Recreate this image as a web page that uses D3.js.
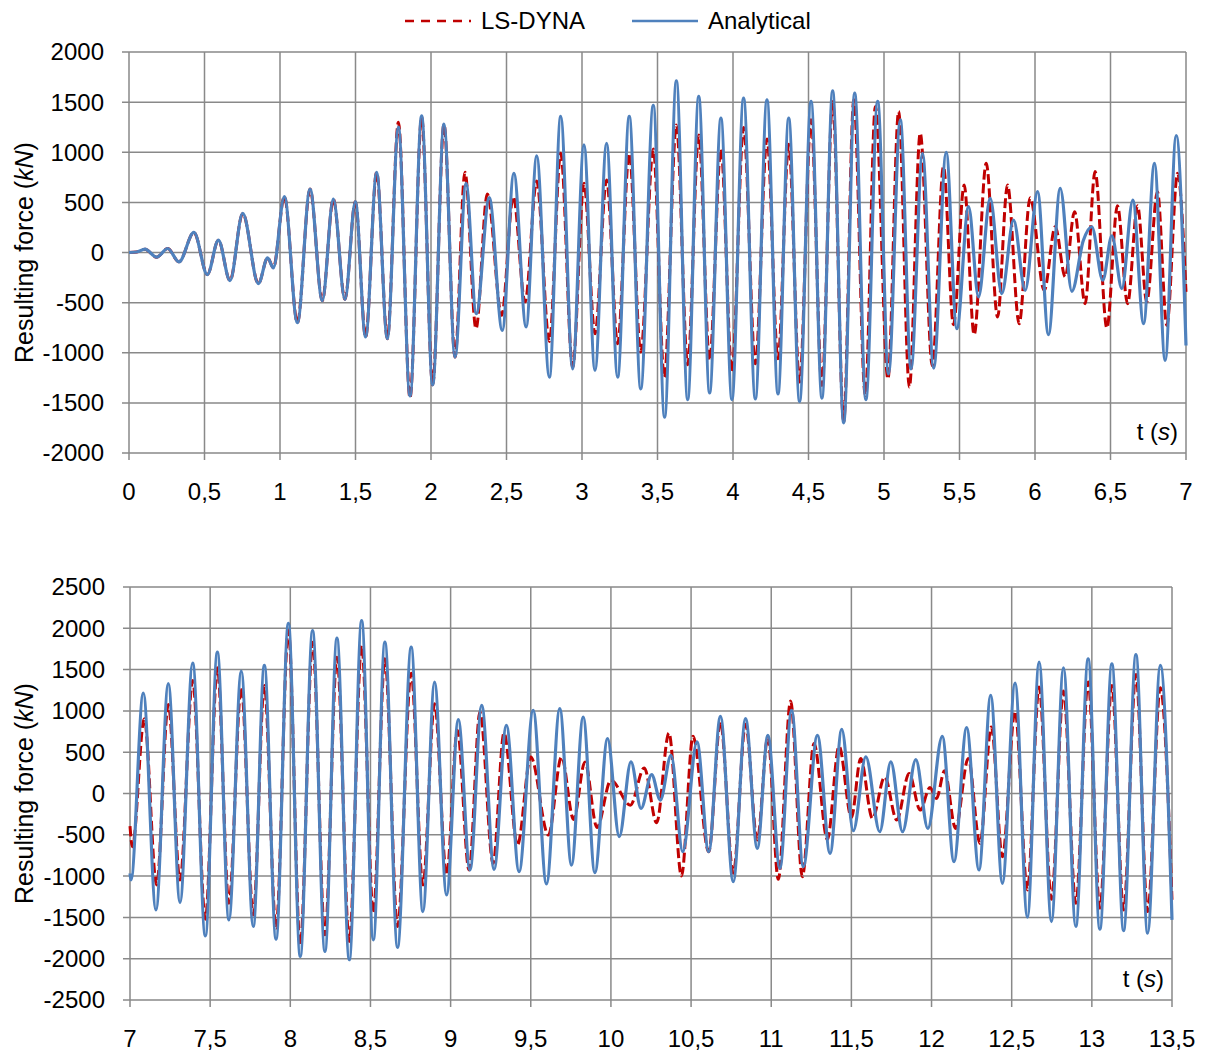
<!DOCTYPE html>
<html>
<head>
<meta charset="utf-8">
<script src="https://cdn.jsdelivr.net/npm/d3@7"></script>
<style>
  body { margin: 0; background: #fff; }
  svg text { font-family: "Liberation Sans", Arial, sans-serif; fill: #000; }
</style>
</head>
<body>
<svg width="1206" height="1052"></svg>
<script>
// extremes: [t (s), force (kN)]
const lsDynaTop = [
  [0,0],[0.05,5],[0.106,33],[0.183,-47],[0.256,40],[0.331,-93],[0.43,200],[0.519,-220],[0.592,123],
  [0.669,-280],[0.753,390],[0.857,-310],[0.918,-53],[0.956,-153],[1.029,557],[1.115,-700],[1.199,633],
  [1.28,-480],[1.353,533],[1.43,-467],[1.499,507],[1.567,-843],[1.64,800],[1.711,-860],
  [1.784,1300],[1.861,-1450],[1.938,1350],[2.011,-1320],[2.086,1280],[2.159,-1043],[2.225,800],
  [2.298,-760],[2.373,583],[2.468,-627],[2.545,557],[2.623,-493],[2.70,713],[2.784,-887],[2.859,990],
  [2.938,-1143],[3.013,690],[3.086,-810],[3.163,723],[3.236,-910],[3.313,990],[3.389,-993],[3.472,1033],
  [3.545,-1243],[3.625,1273],[3.70,-1120],[3.773,1173],[3.845,-1077],[3.92,1033],[3.993,-1193],
  [4.07,1247],[4.148,-1110],[4.225,1133],[4.298,-1060],[4.369,1080],[4.441,-1293],[4.517,1323],
  [4.589,-1327],[4.66,1507],[4.733,-1687],[4.80,1523],[4.876,-1427],[4.943,1457],[5.026,-1260],
  [5.097,1407],[5.168,-1343],[5.24,1190],[5.32,-1130],[5.394,857],[5.46,-720],[5.531,673],[5.597,-820],
  [5.677,890],[5.752,-643],[5.818,673],[5.895,-710],[5.968,547],[6.061,-377],[6.134,257],[6.2,-243],
  [6.262,407],[6.332,-510],[6.398,807],[6.476,-753],[6.546,467],[6.613,-510],[6.679,467],[6.74,-493],
  [6.811,607],[6.873,-727],[6.944,790],[7.0,-393]
];
const analyticalTop = [
  [0,0],[0.05,5],[0.106,33],[0.183,-47],[0.256,40],[0.331,-93],[0.43,200],[0.519,-220],[0.592,123],
  [0.669,-280],[0.753,390],[0.857,-310],[0.918,-53],[0.956,-153],[1.029,557],[1.115,-700],[1.199,633],
  [1.28,-480],[1.353,533],[1.43,-467],[1.499,507],[1.567,-843],[1.64,800],[1.711,-860],
  [1.784,1250],[1.861,-1430],[1.938,1363],[2.011,-1320],[2.086,1280],[2.159,-1043],[2.232,690],
  [2.30,-610],[2.386,547],[2.472,-777],[2.549,790],[2.63,-743],[2.70,963],[2.784,-1243],[2.859,1357],
  [2.938,-1160],[3.013,1073],[3.086,-1177],[3.163,1090],[3.236,-1243],[3.313,1357],[3.389,-1360],
  [3.472,1467],[3.547,-1643],[3.625,1713],[3.70,-1467],[3.773,1557],[3.845,-1400],[3.92,1340],
  [3.993,-1467],[4.07,1540],[4.148,-1460],[4.225,1523],[4.298,-1410],[4.369,1340],[4.441,-1487],
  [4.517,1507],[4.589,-1453],[4.66,1613],[4.733,-1700],[4.806,1590],[4.88,-1467],[4.958,1507],
  [5.03,-1210],[5.108,1323],[5.179,-1160],[5.255,990],[5.329,-1153],[5.412,1000],[5.482,-760],
  [5.56,457],[5.626,-443],[5.703,540],[5.78,-410],[5.858,323],[5.935,-377],[6.017,607],[6.089,-820],
  [6.167,640],[6.244,-387],[6.32,120],[6.376,257],[6.449,-277],[6.509,167],[6.575,-360],[6.648,523],
  [6.719,-710],[6.791,890],[6.862,-1077],[6.935,1167],[7.0,-927]
];
const lsDynaBottom = [
  [7.0,-395],[7.015,-644],[7.089,906],[7.166,-1107],[7.239,1079],[7.312,-1047],[7.391,1369],[7.47,-1522],
  [7.545,1522],[7.617,-1329],[7.694,1288],[7.769,-1470],[7.838,1308],[7.911,-1630],[7.988,1973],
  [8.062,-1832],[8.139,1832],[8.216,-1711],[8.291,1651],[8.368,-1792],[8.445,1792],[8.518,-1449],
  [8.59,1630],[8.669,-1610],[8.754,1457],[8.827,-1107],[8.90,1087],[8.975,-986],[9.042,765],[9.115,-926],
  [9.183,986],[9.265,-845],[9.333,733],[9.417,-624],[9.50,443],[9.61,-503],[9.692,443],[9.767,-314],
  [9.838,382],[9.913,-411],[10.0,161],[10.121,-141],[10.208,310],[10.285,-354],[10.362,733],[10.44,-998],
  [10.512,692],[10.61,-705],[10.683,866],[10.763,-966],[10.84,837],[10.913,-564],[10.979,684],
  [11.044,-1039],[11.121,1119],[11.194,-1007],[11.267,604],[11.35,-556],[11.423,572],[11.50,-290],
  [11.558,423],[11.631,-302],[11.708,201],[11.783,-322],[11.86,242],[11.929,-201],[11.99,72],[12.031,-60],
  [12.081,274],[12.15,-423],[12.229,423],[12.302,-604],[12.373,805],[12.442,-765],[12.521,998],
  [12.598,-1168],[12.671,1288],[12.748,-1280],[12.823,1240],[12.90,-1329],[12.977,1349],[13.05,-1389],
  [13.125,1308],[13.198,-1409],[13.275,1441],[13.348,-1429],[13.427,1280],[13.5,-1288]
];
const analyticalBottom = [
  [7.0,-966],[7.006,-1047],[7.083,1216],[7.162,-1409],[7.239,1329],[7.312,-1320],[7.391,1578],[7.47,-1723],
  [7.545,1711],[7.617,-1530],[7.694,1482],[7.769,-1610],[7.838,1550],[7.911,-1763],[7.988,2061],
  [8.062,-1973],[8.139,1973],[8.216,-1912],[8.291,1880],[8.368,-2013],[8.445,2093],[8.518,-1771],
  [8.59,1832],[8.669,-1862],[8.754,1771],[8.827,-1429],[8.90,1349],[8.975,-1228],[9.048,894],[9.121,-926],
  [9.194,1067],[9.271,-918],[9.348,825],[9.427,-946],[9.515,1007],[9.598,-1095],[9.681,1027],[9.754,-866],
  [9.827,926],[9.90,-958],[9.979,664],[10.052,-523],[10.125,382],[10.188,-181],[10.254,229],[10.308,-80],
  [10.375,463],[10.448,-705],[10.537,624],[10.61,-705],[10.683,934],[10.763,-1067],[10.84,906],
  [10.913,-664],[10.979,705],[11.054,-906],[11.127,1007],[11.2,-886],[11.288,705],[11.367,-725],
  [11.44,777],[11.512,-451],[11.59,443],[11.677,-463],[11.746,382],[11.819,-463],[11.902,411],
  [11.977,-423],[12.067,692],[12.14,-825],[12.219,797],[12.296,-926],[12.369,1188],[12.442,-1087],
  [12.521,1337],[12.598,-1498],[12.671,1590],[12.748,-1550],[12.823,1522],[12.90,-1610],[12.977,1630],
  [13.05,-1643],[13.125,1570],[13.198,-1659],[13.275,1683],[13.348,-1691],[13.427,1550],[13.5,-1530]
];

const topXTicks = d3.range(0, 7.01, 0.5);
const topYTicks = d3.range(-2000, 2001, 500);
const bottomXTicks = d3.range(7, 13.51, 0.5);
const bottomYTicks = d3.range(-2500, 2501, 500);

const seriesNames = ["LS-DYNA", "Analytical"];
const seriesColors = ["#C00000", "#4F81BD"];

let svg = d3.select("svg");
let gridColor = "#898989";
let fmt = (d) => String(+d.toFixed(1)).replace(".", ",");

function drawPanel(box, xDomain, yDomain, xTicks, yTicks, red, blue) {
    let x = d3.scaleLinear().domain(xDomain).range([box.left, box.right]);
    let y = d3.scaleLinear().domain(yDomain).range([box.bottom, box.top]);
    let g = svg.append("g");

    // grid + tick marks
    g.selectAll(".hgrid").data(yTicks).enter().append("line")
        .attr("x1", box.left - 7).attr("x2", box.right)
        .attr("y1", d => y(d)).attr("y2", d => y(d))
        .attr("stroke", gridColor).attr("stroke-width", 1.5);
    g.selectAll(".vgrid").data(xTicks).enter().append("line")
        .attr("x1", d => x(d)).attr("x2", d => x(d))
        .attr("y1", box.top).attr("y2", box.bottom + 7)
        .attr("stroke", gridColor).attr("stroke-width", 1.5);

    g.selectAll(".ylab").data(yTicks).enter().append("text")
        .attr("x", box.left - 25).attr("y", d => y(d))
        .attr("dy", "0.35em").attr("text-anchor", "end")
        .style("font-size", "24px")
        .text(d => d);
    g.selectAll(".xlab").data(xTicks).enter().append("text")
        .attr("x", d => x(d)).attr("y", box.bottom + 47)
        .attr("text-anchor", "middle")
        .style("font-size", "24px")
        .text(fmt);

    let line = d3.line()
        .x(d => x(d[0])).y(d => y(d[1]))
        .curve(d3.curveMonotoneX);

    g.append("path").datum(red)
        .attr("d", line).attr("fill", "none")
        .attr("stroke", seriesColors[0]).attr("stroke-width", 3)
        .attr("stroke-dasharray", "10,4");
    g.append("path").datum(blue)
        .attr("d", line).attr("fill", "none")
        .attr("stroke", seriesColors[1]).attr("stroke-width", 3.2);

    let yTitle = g.append("text")
        .attr("transform", `translate(33,${(box.top + box.bottom) / 2}) rotate(-90)`)
        .attr("text-anchor", "middle")
        .style("font-size", "25px");
    yTitle.append("tspan").text("Resulting force (");
    yTitle.append("tspan").style("font-style", "italic").text("kN");
    yTitle.append("tspan").text(")");

    let xTitle = g.append("text")
        .attr("x", box.right - 8).attr("y", box.bottom - 13)
        .attr("text-anchor", "end")
        .style("font-size", "24px");
    xTitle.append("tspan").text("t (");
    xTitle.append("tspan").style("font-style", "italic").text("s");
    xTitle.append("tspan").text(")");
}

drawPanel({left: 129, right: 1186, top: 52, bottom: 453}, [0, 7], [-2000, 2000],
    topXTicks, topYTicks, lsDynaTop, analyticalTop);
drawPanel({left: 130, right: 1172, top: 587, bottom: 1000}, [7, 13.5], [-2500, 2500],
    bottomXTicks, bottomYTicks, lsDynaBottom, analyticalBottom);

// legend
let legend = svg.append("g");
let legendX = [405, 632];
seriesNames.forEach((name, i) => {
    legend.append("line")
        .attr("x1", legendX[i]).attr("x2", legendX[i] + 66)
        .attr("y1", 21).attr("y2", 21)
        .attr("stroke", seriesColors[i]).attr("stroke-width", 2.5)
        .attr("stroke-dasharray", i == 0 ? "9,7" : null);
    legend.append("text")
        .attr("x", legendX[i] + 76).attr("y", 29)
        .style("font-size", "24px")
        .text(name);
});
</script>
</body>
</html>
